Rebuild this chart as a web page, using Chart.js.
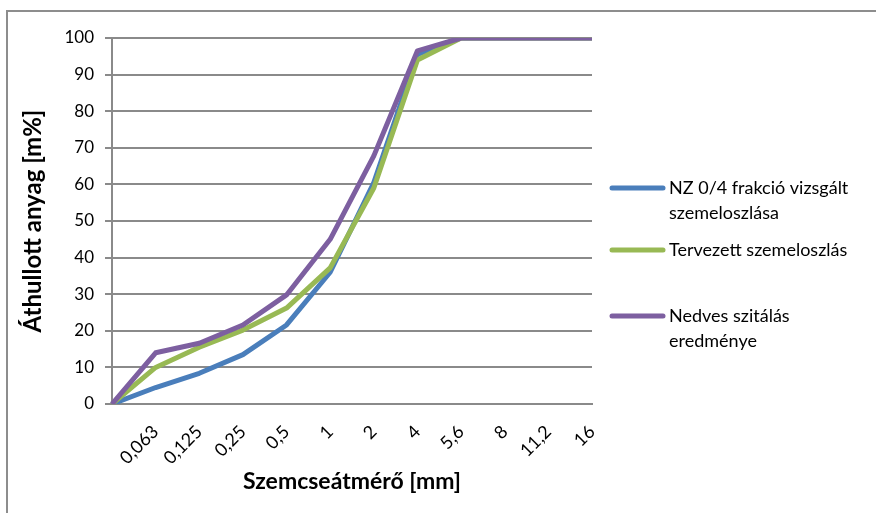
<!DOCTYPE html>
<html>
<head>
<meta charset="utf-8">
<script src="https://cdn.jsdelivr.net/npm/chart.js@4.4.1/dist/chart.umd.min.js"></script>
<style>
  html, body { margin: 0; padding: 0; background: #fff; overflow: hidden; }
  #wrap { position: relative; width: 876px; height: 513px; }
  #frame {
    position: absolute; left: 6px; top: 10px; width: 900px; height: 600px;
    border-left: 2px solid #8d8d8d; border-top: 2px solid #8d8d8d;
    pointer-events: none;
  }
</style>
</head>
<body>
<div id="wrap">
  <canvas id="myChart" width="876" height="513"></canvas>
  <div id="frame"></div>
</div>
<script>
// sieve sizes (mm), first point is the origin
var sizes = ['', '0,063', '0,125', '0,25', '0,5', '1', '2', '4', '5,6', '8', '11,2', '16'];

var vizsgalt = [0, 4.5, 8.4, 13.5, 21.6, 36, 60.5, 95.5, 100, 100, 100, 100];
var tervezett = [0, 10, 15.5, 20.2, 26.2, 37.2, 59, 94, 100, 100, 100, 100];
var nedves = [0, 14, 16.6, 21.6, 29.8, 45, 67.8, 96.5, 100, 100, 100, 100];

var yTicks = [0, 10, 20, 30, 40, 50, 60, 70, 80, 90, 100];

var fontFamily = 'Lato, "Noto Sans", sans-serif';

// legend on the right with wrapped labels
var sideLegend = {
    id: 'sideLegend',
    afterDraw: function (chart, args, opts) {
        var c = chart.ctx;
        c.save();
        c.font = opts.fontSize + 'px ' + fontFamily;
        c.fillStyle = '#000';
        c.textBaseline = 'middle';
        c.textAlign = 'left';
        chart.data.datasets.forEach(function (ds, i) {
            var y = opts.rows[i];
            c.strokeStyle = ds.borderColor;
            c.lineWidth = 5;
            c.lineCap = 'round';
            c.beginPath();
            c.moveTo(opts.x, y);
            c.lineTo(opts.x + opts.lineLength, y);
            c.stroke();
            ds.legendLines.forEach(function (t, j) {
                c.fillText(t, opts.x + opts.lineLength + 6, y + j * opts.lineHeight);
            });
        });
        c.restore();
    }
};

var ctx = document.getElementById('myChart').getContext('2d');
var myChart = new Chart(ctx, {
    type: 'line',
    data: {
        labels: sizes,
        datasets: [{
            label: 'NZ 0/4 frakció vizsgált szemeloszlása',
            legendLines: ['NZ 0/4 frakció vizsgált', 'szemeloszlása'],
            data: vizsgalt,
            borderColor: '#4a7ebb',
            order: 2
        }, {
            label: 'Tervezett szemeloszlás',
            legendLines: ['Tervezett szemeloszlás'],
            data: tervezett,
            borderColor: '#98b954',
            order: 1
        }, {
            label: 'Nedves szitálás eredménye',
            legendLines: ['Nedves szitálás', 'eredménye'],
            data: nedves,
            borderColor: '#7d5fa0',
            order: 0
        }]
    },
    options: {
        responsive: false,
        animation: false,
        layout: {
            padding: { left: 0, top: 38, right: 284, bottom: 0 }
        },
        elements: {
            line: { borderWidth: 5, tension: 0, borderJoinStyle: 'round', fill: false },
            point: { radius: 0, hoverRadius: 0 }
        },
        plugins: {
            legend: { display: false },
            tooltip: { enabled: false },
            sideLegend: {
                x: 612, lineLength: 51, rows: [188, 250, 316],
                lineHeight: 25, fontSize: 18
            }
        },
        scales: {
            x: {
                offset: false,
                grid: { display: false },
                border: { display: true, color: '#8a8a8a', width: 2 },
                ticks: {
                    autoSkip: false,
                    maxRotation: 45,
                    minRotation: 45,
                    padding: 9,
                    color: '#000',
                    font: { family: fontFamily, size: 18 }
                },
                title: {
                    display: true,
                    text: 'Szemcseátmérő [mm]',
                    color: '#000',
                    font: { family: fontFamily, size: 23, weight: 'bold' },
                    padding: { top: 0, bottom: 18 }
                },
                afterFit: function (scale) { scale.height = 109; }
            },
            y: {
                min: 0,
                max: 100,
                afterBuildTicks: function (scale) {
                    scale.ticks = yTicks.map(function (v) { return { value: v }; });
                },
                grid: { color: '#8a8a8a', lineWidth: 2, tickLength: 7 },
                border: { display: true, color: '#8a8a8a', width: 2 },
                ticks: {
                    padding: 11,
                    color: '#000',
                    font: { family: fontFamily, size: 17 }
                },
                title: {
                    display: true,
                    text: 'Áthullott anyag [m%]',
                    color: '#000',
                    font: { family: fontFamily, size: 24, weight: 'bold' },
                    padding: { top: 19, bottom: 0 }
                },
                afterFit: function (scale) { scale.width = 112; }
            }
        }
    },
    plugins: [sideLegend]
});
</script>
</body>
</html>
